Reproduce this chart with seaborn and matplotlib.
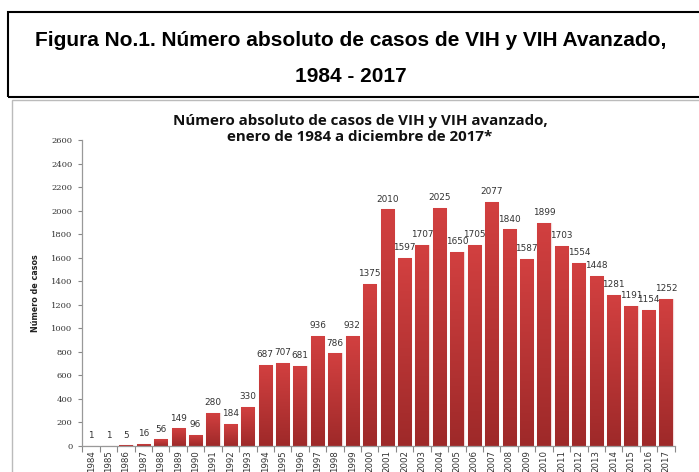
import numpy as np
import pandas as pd
import matplotlib
matplotlib.use("Agg")
import matplotlib.pyplot as plt
from matplotlib.patches import Rectangle
from matplotlib.colors import LinearSegmentedColormap
import seaborn as sns

years = [str(y) for y in range(1984, 2018)]
casos = [1, 1, 5, 16, 56, 149, 96, 280, 184, 330, 687, 707, 681, 936, 786, 932,
         1375, 2010, 1597, 1707, 2025, 1650, 1705, 2077, 1840, 1587, 1899, 1703,
         1554, 1448, 1281, 1191, 1154, 1252]
yticks = list(range(0, 2601, 200))

header_l1 = "Figura No.1. Número absoluto de casos de VIH y VIH Avanzado,"
header_l2 = "1984 - 2017"
chart_title = "Número absoluto de casos de VIH y VIH avanzado,\nenero de 1984 a diciembre de 2017*"
ylabel = "Número de casos"

df = pd.DataFrame({"year": years, "casos": casos})

sns.set_theme(style="white")
plt.rcParams['font.family'] = ['DejaVu Sans']

W, H = 699, 472
fig = plt.figure(figsize=(W/100, H/100), dpi=100)

def fx(px): return px / W
def fy(py): return 1 - py / H

ax = fig.add_axes([fx(82), fy(446), fx(675) - fx(82), fy(140) - fy(446)])

sns.barplot(data=df, x="year", y="casos", color="#c23636", width=0.76,
            edgecolor="#f2dada", linewidth=0.9, saturation=1, ax=ax)

# vertical gradient fill inside each bar (lighter top, darker bottom)
cmap = LinearSegmentedColormap.from_list("redgrad", ["#9e2929", "#d24040"])
grad = np.linspace(0, 1, 256).reshape(-1, 1)
for p in list(ax.patches):
    x0, y0 = p.get_x(), p.get_y()
    w, h = p.get_width(), p.get_height()
    if h <= 0:
        continue
    im = ax.imshow(grad, cmap=cmap, origin="lower", aspect="auto",
                   extent=[x0, x0 + w, y0, y0 + h], zorder=p.get_zorder() + 0.1,
                   interpolation="bilinear")
    im.set_clip_path(p)

ax.set_xlim(-0.52, len(years) - 0.48)
ax.set_ylim(0, 2600)
ax.set_yticks(yticks)
ax.set_yticklabels([str(v) for v in yticks], fontsize=6, color="#333333",
                   family="DejaVu Serif")
ax.set_xticks(range(len(years)))
ax.set_xticklabels(years, rotation=90, fontsize=6.2, color="#333333")
ax.set_xticks(np.arange(-0.5, len(years), 1), minor=True)
ax.tick_params(axis="x", which="major", length=0, pad=3)
ax.tick_params(axis="x", which="minor", length=4, color="#888888", width=0.8,
               direction="out", bottom=True)
ax.tick_params(axis="y", length=3, color="#888888", width=0.8, direction="out",
               pad=4, left=True)
ax.set_xlabel("")
ax.set_ylabel(ylabel, fontsize=5.8, fontweight="bold", color="#222222", labelpad=8)

for s in ["top", "right"]:
    ax.spines[s].set_visible(False)
for s in ["left", "bottom"]:
    ax.spines[s].set_color("#999999")
    ax.spines[s].set_linewidth(0.9)

for i, v in enumerate(casos):
    ax.text(i, v + 50, str(v), ha="center", va="bottom", fontsize=6.4,
            color="#333333")

# Header box
fig.patches.append(Rectangle((fx(8), fy(97)), 1.2, fy(12) - fy(97),
                             transform=fig.transFigure, fill=False,
                             edgecolor="black", linewidth=1.5))
fig.text(fx(351), fy(40), header_l1, ha="center", va="center", fontsize=15,
         fontweight="bold", family="Liberation Sans", color="black")
fig.text(fx(351), fy(77), header_l2, ha="center", va="center", fontsize=15,
         fontweight="bold", family="Liberation Sans", color="black")

# Chart frame
fig.patches.append(Rectangle((fx(12), -0.2), 1.2, fy(100) + 0.2,
                             transform=fig.transFigure, fill=False,
                             edgecolor="#bbbbbb", linewidth=1.0))
fig.text(fx(360), fy(129), chart_title, ha="center", va="center", fontsize=10.9,
         fontweight="bold", family="Open Sans", linespacing=1.25, color="#111111")

fig.savefig("out.png", dpi=100)
